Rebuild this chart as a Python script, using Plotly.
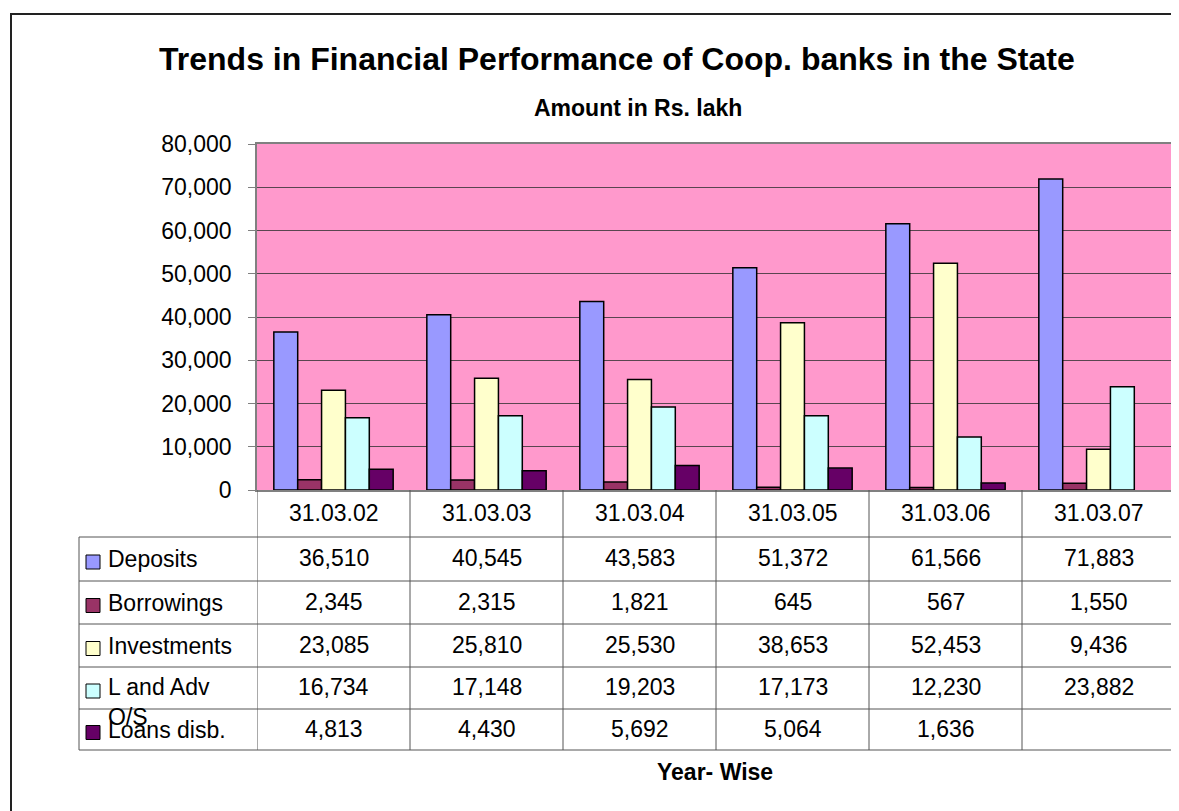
import plotly.graph_objects as go

categories = ["31.03.02", "31.03.03", "31.03.04", "31.03.05", "31.03.06", "31.03.07"]
deposits = [36510, 40545, 43583, 51372, 61566, 71883]
borrowings = [2345, 2315, 1821, 645, 567, 1550]
investments = [23085, 25810, 25530, 38653, 52453, 9436]
l_and_adv = [16734, 17148, 19203, 17173, 12230, 23882]
loans_disb = [4813, 4430, 5692, 5064, 1636, None]

series_names = ["Deposits", "Borrowings", "Investments", "L and Adv O/S", "Loans disb."]
series_values = [deposits, borrowings, investments, l_and_adv, loans_disb]
series_colors = ["#9999FF", "#993366", "#FFFFCC", "#CCFFFF", "#660066"]
label_display = {"L and Adv O/S": "L and Adv<br>O/S"}

OFF = 8  # page body margin
W, H = 1179 - OFF, 811 - OFF
PL, PR, PT, PB = 257, 1175, 144, 490  # in screenshot pixels
FONT = "Liberation Sans, Arial, sans-serif"


def px2x(px):
    return (px - PL) / (PR - PL)


def px2y(py):
    return (PB - py) / (PB - PT)


fig = go.Figure()
for name, vals, col in zip(series_names, series_values, series_colors):
    fig.add_trace(go.Bar(
        x=categories, y=vals, name=name,
        marker=dict(color=col, line=dict(color="#000000", width=1.5)),
        hoverinfo="x+y+name",
    ))

shapes = []
annotations = []
line_col = "#555555"

header_bottom = 537
row_edges = [537, 581, 624, 667, 709, 750]
table_left = 79

for i in range(len(categories) + 1):
    shapes.append(dict(type="line", xref="x", yref="paper",
                       x0=i - 0.5, x1=i - 0.5, y0=px2y(PB), y1=px2y(row_edges[-1]),
                       line=dict(color=line_col, width=1)))
shapes.append(dict(type="line", xref="paper", yref="paper",
                   x0=px2x(table_left), x1=px2x(table_left),
                   y0=px2y(row_edges[0]), y1=px2y(row_edges[-1]),
                   line=dict(color=line_col, width=1)))
for ry in row_edges:
    shapes.append(dict(type="line", xref="paper", yref="paper",
                       x0=px2x(table_left), x1=1, y0=px2y(ry), y1=px2y(ry),
                       line=dict(color=line_col, width=1)))

for i, c in enumerate(categories):
    annotations.append(dict(x=i, y=px2y((PB + header_bottom) / 2 - 1), xref="x", yref="paper",
                            text=c, showarrow=False, font=dict(family=FONT, size=23, color="#000"),
                            xanchor="center", yanchor="middle"))

for r, (name, vals, col) in enumerate(zip(series_names, series_values, series_colors)):
    cy = (row_edges[r] + row_edges[r + 1]) / 2
    shapes.append(dict(type="rect", xref="paper", yref="paper",
                       x0=px2x(86), x1=px2x(100), y0=px2y(cy + 10), y1=px2y(cy - 4),
                       fillcolor=col, line=dict(color="#000000", width=1)))
    lab = label_display.get(name, name)
    if "<br>" in lab:
        annotations.append(dict(x=px2x(106), y=px2y(cy - 16), xref="paper", yref="paper",
                                text=lab, showarrow=False, align="left",
                                font=dict(family=FONT, size=23, color="#000"),
                                xanchor="left", yanchor="top"))
    else:
        annotations.append(dict(x=px2x(106), y=px2y(cy), xref="paper", yref="paper",
                                text=lab, showarrow=False,
                                font=dict(family=FONT, size=23, color="#000"),
                                xanchor="left", yanchor="middle"))
    for i, v in enumerate(vals):
        if v is None:
            continue
        annotations.append(dict(x=i, y=px2y(cy - 1), xref="x", yref="paper",
                                text=f"{v:,}", showarrow=False,
                                font=dict(family=FONT, size=23, color="#000"),
                                xanchor="center", yanchor="middle"))

annotations.append(dict(x=px2x(617), y=px2y(59), xref="paper", yref="paper",
                        text="<b>Trends in Financial Performance of Coop. banks in the State</b>",
                        showarrow=False, font=dict(family=FONT, size=32, color="#000"),
                        xanchor="center", yanchor="middle"))
annotations.append(dict(x=px2x(638), y=px2y(108), xref="paper", yref="paper",
                        text="<b>Amount in Rs. lakh</b>",
                        showarrow=False, font=dict(family=FONT, size=23, color="#000"),
                        xanchor="center", yanchor="middle"))
annotations.append(dict(x=px2x(715), y=px2y(772), xref="paper", yref="paper",
                        text="<b>Year- Wise</b>",
                        showarrow=False, font=dict(family=FONT, size=23, color="#000"),
                        xanchor="center", yanchor="middle"))

shapes.append(dict(type="line", xref="paper", yref="paper",
                   x0=px2x(11), x1=px2x(11), y0=px2y(13), y1=px2y(830),
                   line=dict(color="#222222", width=2)))
shapes.append(dict(type="line", xref="paper", yref="paper",
                   x0=px2x(10), x1=px2x(1200), y0=px2y(14), y1=px2y(14),
                   line=dict(color="#222222", width=2)))

fig.update_layout(
    width=W, height=H,
    margin=dict(l=PL - OFF, r=W - (PR - OFF), t=PT - OFF, b=H - (PB - OFF), autoexpand=False),
    paper_bgcolor="#FFFFFF", plot_bgcolor="#FF99CC",
    barmode="group", bargap=0.22, bargroupgap=0,
    showlegend=False,
    shapes=shapes, annotations=annotations,
    font=dict(family=FONT, color="#000"),
)
fig.update_xaxes(showticklabels=False, ticks="", showgrid=False, range=[-0.5, 5.5],
                 showline=True, linecolor="#808080", linewidth=1.5, mirror=True, zeroline=False)
fig.update_yaxes(range=[0, 80000], dtick=10000, tickformat=",d", ticks="outside", ticklen=7,
                 tickcolor="#808080", showgrid=True, gridcolor="#5a4550", gridwidth=1,
                 showline=True, linecolor="#808080", linewidth=1.5, mirror=True, zeroline=False,
                 tickfont=dict(family=FONT, size=23, color="#000"), ticklabelstandoff=12)

fig.write_html("out.html")
